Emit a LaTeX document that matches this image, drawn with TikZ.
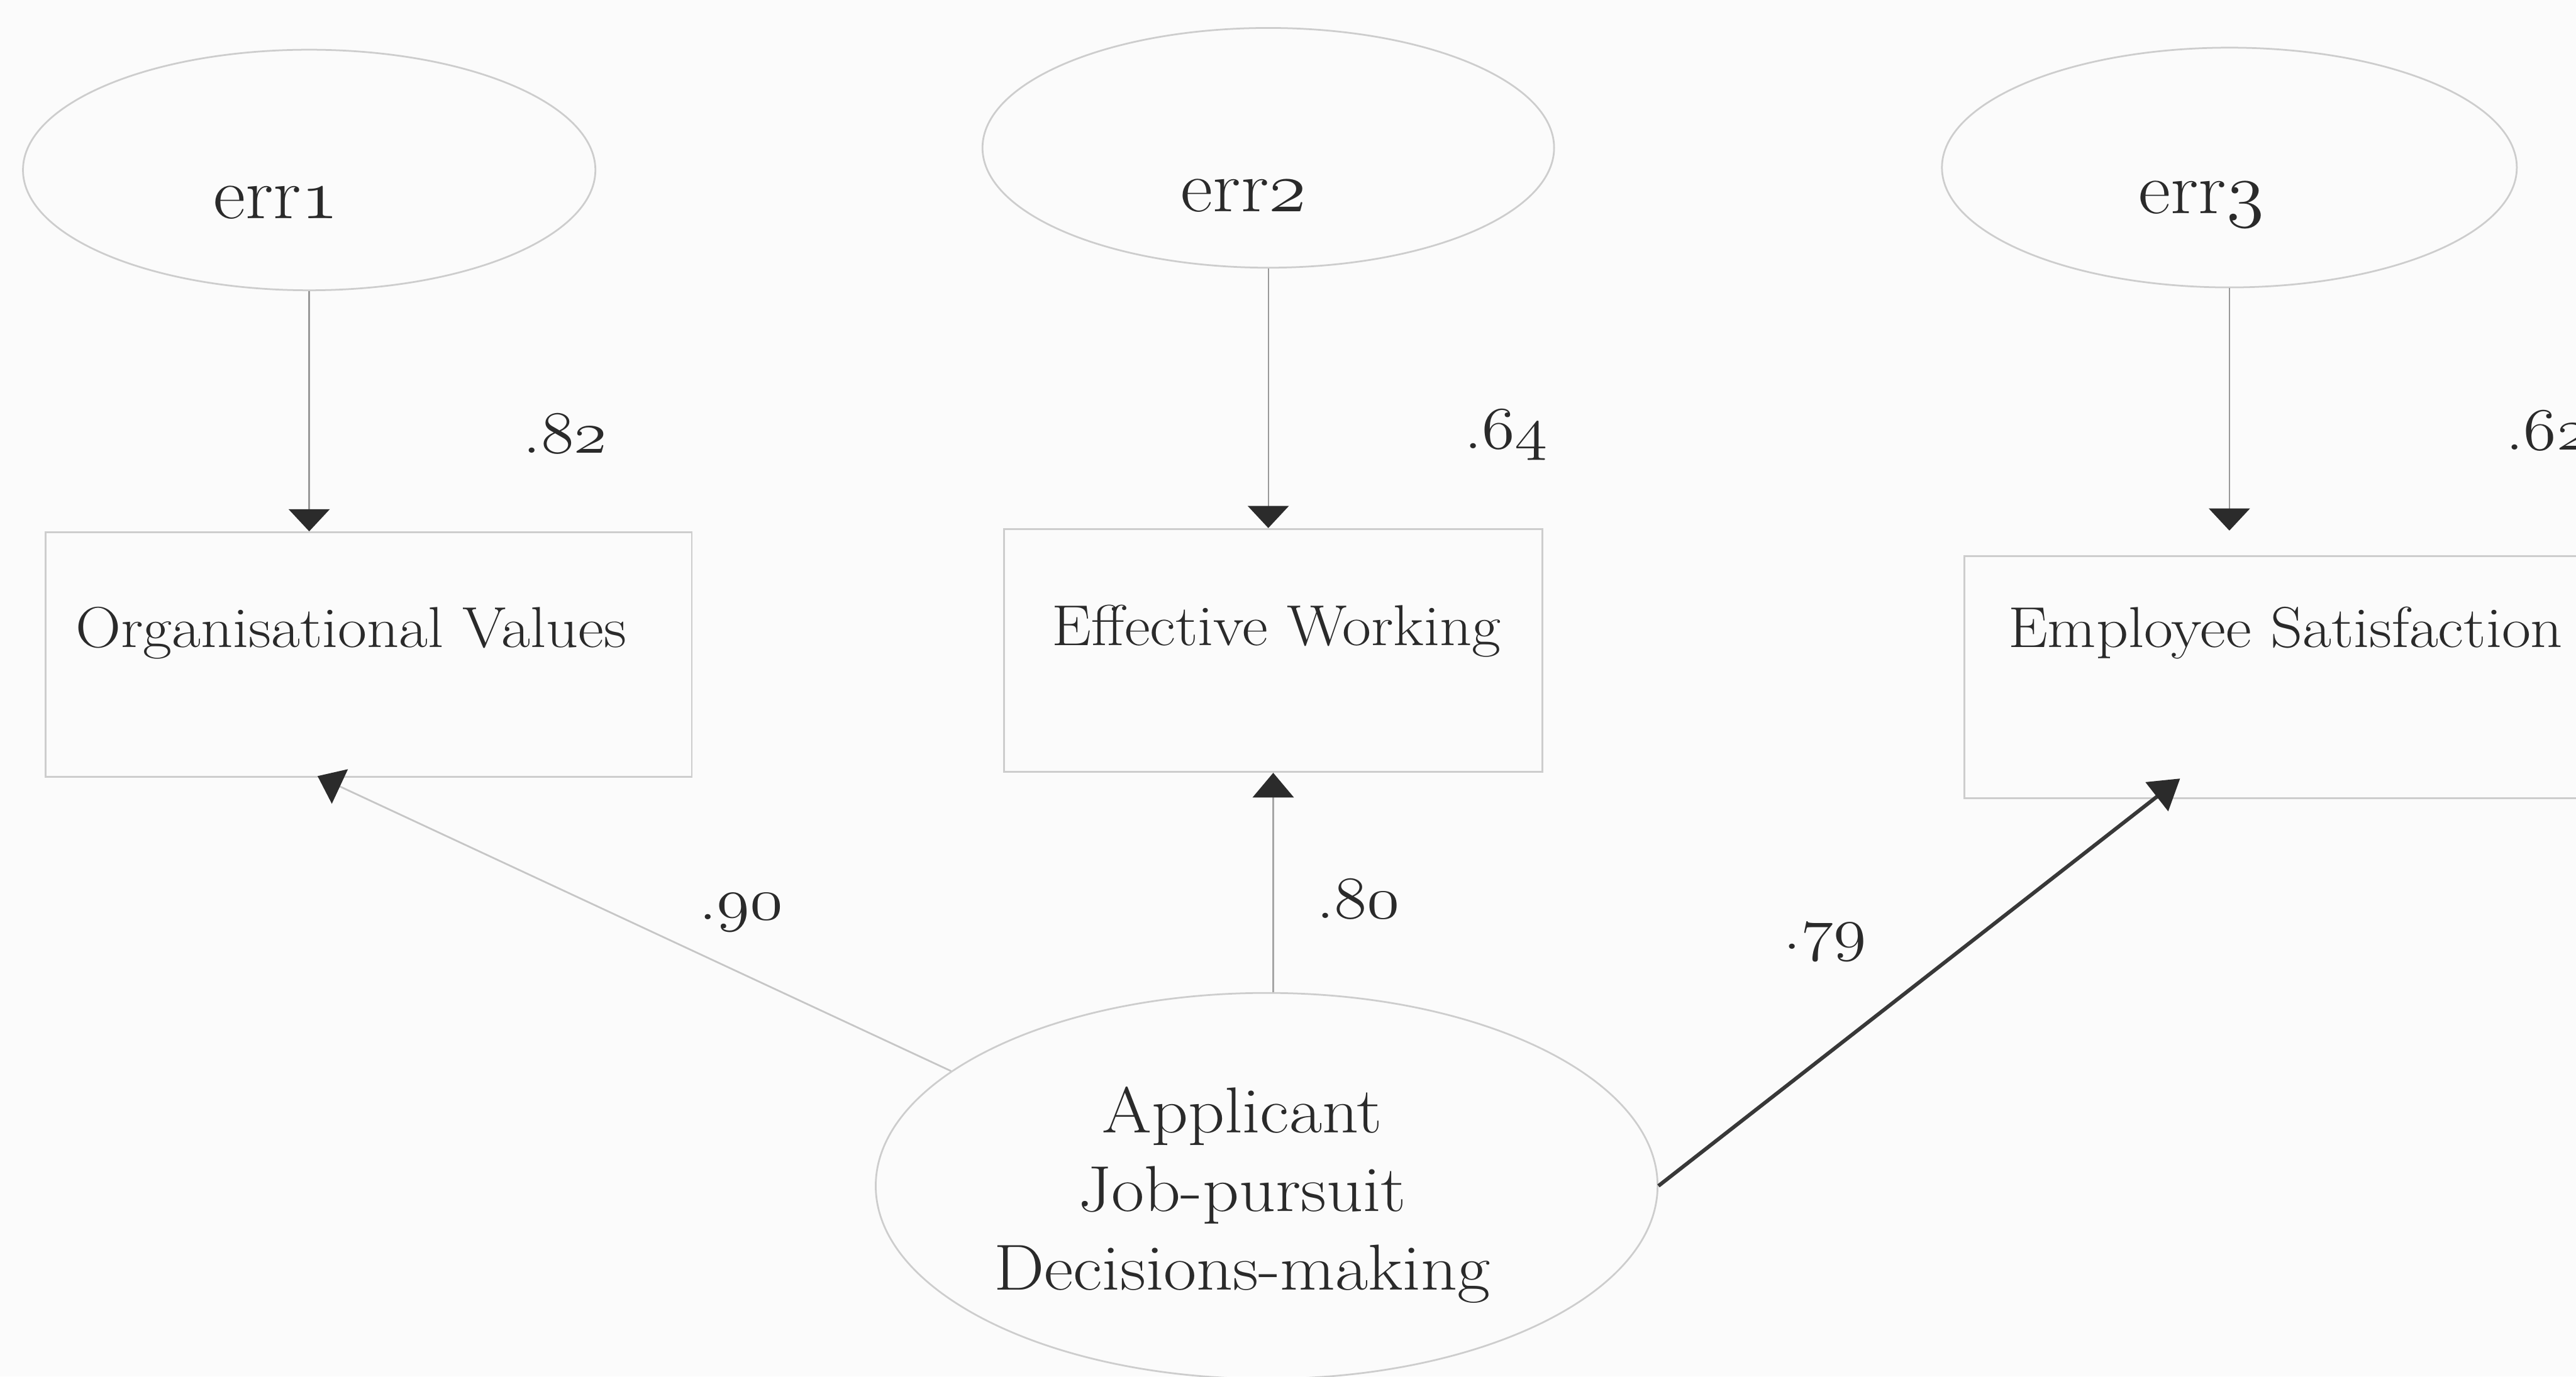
\documentclass[tikz,border=0pt]{standalone}
\usetikzlibrary{arrows.meta,shapes.geometric}
\definecolor{shapegray}{HTML}{CDCDCD}
\definecolor{linegray}{HTML}{999999}
\definecolor{lightline}{HTML}{C6C6C6}
\definecolor{midline}{HTML}{A6A6A6}
\definecolor{headcol}{HTML}{2B2B2B}
\definecolor{thickcol}{HTML}{383838}
\definecolor{txtcol}{HTML}{2A2A2A}
\definecolor{bgcol}{HTML}{FBFBFB}
\newcommand\osn[1]{{\usefont{OML}{lmm}{m}{it}#1}}
\newcommand\wide[2]{\scalebox{#1}[1]{#2}}
\begin{document}
\begin{tikzpicture}[x=0.02cm, y=-0.02cm,
  ell/.style={ellipse, draw=shapegray, line width=0.6pt, inner sep=0pt},
  boxnode/.style={rectangle, draw=shapegray, line width=0.6pt, inner sep=0pt},
  errtxt/.style={text=txtcol, inner sep=0pt, anchor=base, font=\fontsize{25.5}{30}\selectfont},
  boxtxt/.style={text=txtcol, inner sep=0pt, anchor=base west, font=\fontsize{20}{24}\selectfont},
  apptxt/.style={text=txtcol, inner sep=0pt, font=\fontsize{22.5}{27.2}\selectfont},
  numtxt/.style={text=txtcol, inner sep=0pt, anchor=base west, font=\fontsize{22}{26}\selectfont},
  thinarrow/.style={draw=linegray, line width=0.5pt, -{Triangle[width=0.5cm, length=0.27cm, color=headcol]}},
  midarrow/.style={draw=midline, line width=0.5pt, -{Triangle[width=0.5cm, length=0.3cm, color=headcol]}},
  lightarrow/.style={draw=lightline, line width=0.6pt, -{Triangle[width=0.46cm, length=0.3cm, color=headcol]}},
  thickarrow/.style={draw=thickcol, line width=1.3pt, -{Triangle[width=0.44cm, length=0.36cm, color=headcol]}}
]
\fill[bgcol] (0,0) rectangle (1568,838);
\useasboundingbox (0,0) rectangle (1568,838);
\clip (0,0) rectangle (1568,838);

% error ellipses
\node[ell, minimum width=6.97cm, minimum height=2.93cm] (err1) at (188.2,103.5) {};
\node[ell, minimum width=6.96cm, minimum height=2.92cm] (err2) at (772,90) {};
\node[ell, minimum width=7.0cm, minimum height=2.92cm] (err3) at (1357,102) {};
\node[errtxt] (err1t) at (168,133) {\wide{1.07}{err\osn{1}}};
\node[errtxt] (err2t) at (757,129) {\wide{1.07}{err\osn{2}}};
\node[errtxt] (err3t) at (1340,130) {\wide{1.07}{err\osn{3}}};

% observed boxes
\node[boxnode, minimum width=7.87cm, minimum height=2.98cm] (box1) at (224.4,398.5) {};
\node[boxnode, minimum width=6.56cm, minimum height=2.96cm] (box2) at (775,396) {};
\node[boxnode, minimum width=8.09cm, minimum height=2.95cm] (box3) at (1397.8,412.3) {};
\node[boxtxt] (box1t) at (45.6,394) {\wide{1.09}{Organisational Values}};
\node[boxtxt] (box2t) at (640,393) {\wide{1.09}{Effective Working}};
\node[boxtxt] (box3t) at (1222,394) {\wide{1.09}{Employee Satisfaction}};

% latent ellipse
\node[ell, minimum width=9.52cm, minimum height=4.7cm] (app) at (771,722) {};
\node[apptxt] (appt) at (756,728) {\wide{1.1}{\begin{tabular}{@{}c@{}}Applicant\\Job-pursuit\\Decisions-making\end{tabular}}};

% connectors
\coordinate (tip1) at (193.3,472.5);
\coordinate (tip3) at (1327,474);
\draw[thinarrow] (err1.south) -- (err1.south |- box1.north);
\draw[thinarrow] (err2.south) -- (err2.south |- box2.north);
\draw[thinarrow, shorten >=0.3cm] (err3.south) -- (err3.south |- box3.north);
\draw[midarrow] (app.north -| box2.south) -- (box2.south);
\draw[lightarrow] (app.160) -- (tip1);
\draw[thickarrow] (app.east) -- (tip3);

% coefficients
\node[numtxt] (n82) at (318,276) {\wide{1.13}{.\osn{82}}};
\node[numtxt] (n64) at (891,273) {\wide{1.12}{.\osn{64}}};
\node[numtxt] (n62) at (1525,274) {\wide{1.12}{.\osn{62}}};
\node[numtxt] (n90) at (425,560) {\wide{1.13}{.\osn{90}}};
\node[numtxt] (n80) at (801,559) {\wide{1.12}{.\osn{80}}};
\node[numtxt] (n79) at (1085,578) {\wide{1.12}{.\osn{79}}};
\end{tikzpicture}
\end{document}
